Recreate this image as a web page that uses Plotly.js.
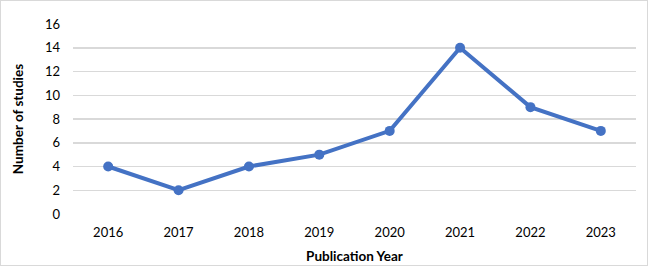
<!DOCTYPE html>
<html><head><meta charset="utf-8">
<script src="https://cdn.plot.ly/plotly-3.0.1.min.js"></script>
<style>html,body{margin:0;padding:0;background:#fff}#c{width:648px;height:266px;box-sizing:border-box;border:1px solid #d9d9d9}</style>
</head><body><div id="c"></div>
<script>
var years = ['2016','2017','2018','2019','2020','2021','2022','2023'];
var studies = [4, 2, 4, 5, 7, 14, 9, 7];
var yTicks = [0, 2, 4, 6, 8, 10, 12, 14, 16];
Plotly.newPlot('c', [{
  x: years, y: studies, type: 'scatter', mode: 'lines+markers',
  line: {color: '#4472C4', width: 4},
  marker: {color: '#4472C4', size: 10}
}], {
  width: 646, height: 264,
  margin: {l: 72, r: 11, t: 23, b: 51},
  paper_bgcolor: '#fff', plot_bgcolor: '#fff',
  font: {family: 'Lato, Open Sans, sans-serif', size: 13, color: '#000'},
  showlegend: false,
  xaxis: {type: 'category', range: [-0.5, 7.5], showgrid: false, zeroline: false,
    showline: false, ticks: '', ticklen: 0, ticklabelstandoff: 9,
    title: {text: '<b>Publication Year</b>', font: {size: 13.5}, standoff: 12}},
  yaxis: {range: [0, 16], tickvals: yTicks, showgrid: true, gridcolor: '#d9d9d9', gridwidth: 1.5,
    zeroline: false, showline: false, ticks: '', ticklabelstandoff: 12,
    title: {text: '<b>Number of studies</b>', font: {size: 13.5}, standoff: 18}}
}, {displayModeBar: false, staticPlot: true});
</script></body></html>
